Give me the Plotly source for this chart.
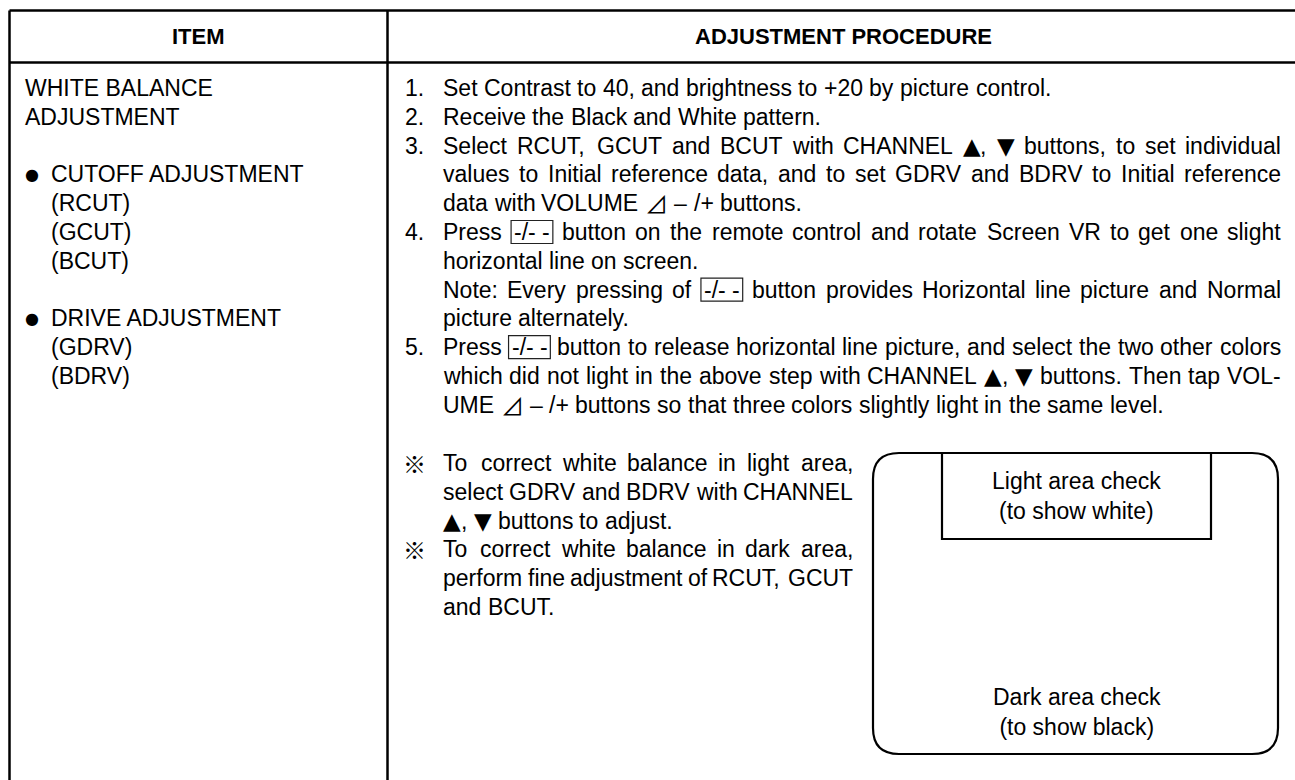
import plotly.graph_objects as go

# ---------------- content ----------------
header_item = "ITEM"
header_proc = "ADJUSTMENT PROCEDURE"

item_bullets = ["", "", "", "●", "", "", "", "", "●", "", ""]
item_lines = ["WHITE BALANCE", "ADJUSTMENT", "", "CUTOFF ADJUSTMENT", "(RCUT)", "(GCUT)",
              "(BCUT)", "", "DRIVE ADJUSTMENT", "(GDRV)", "(BDRV)"]

NB = "\u00a0"
BOXED = "[-/-" + NB + "-]"
step_labels = ["1.", "2.", "3.", "", "", "4.", "", "", "", "5.", "", ""]
step_lines = [
    "Set Contrast to 40, and brightness to +20 by picture control.",
    "Receive the Black and White pattern.",
    "Select RCUT, GCUT and BCUT with CHANNEL ▲, ▼ buttons, to set individual",
    "values to Initial reference data, and to set GDRV and BDRV to Initial reference",
    "data with VOLUME ⊿ – /+ buttons.",
    "Press " + BOXED + " button on the remote control and rotate Screen VR to get one slight",
    "horizontal line on screen.",
    "Note: Every pressing of " + BOXED + " button provides Horizontal line picture and Normal",
    "picture alternately.",
    "Press " + BOXED + " button to release horizontal line picture, and select the two other colors",
    "which did not light in the above step with CHANNEL ▲, ▼ buttons. Then tap VOL-",
    "UME ⊿ – /+ buttons so that three colors slightly light in the same level.",
]
step_justify = [0, 0, 1, 1, 0, 1, 0, 1, 0, 1, 1, 0]

note_labels = ["※", "", "", "※", "", ""]
note_lines = [
    "To correct white balance in light area,",
    "select GDRV and BDRV with CHANNEL",
    "▲, ▼ buttons to adjust.",
    "To correct white balance in dark area,",
    "perform fine adjustment of RCUT, GCUT",
    "and BCUT.",
]
note_justify = [1, 1, 0, 1, 1, 0]

diagram_top_label = "Light area check<br>(to show white)"
diagram_bottom_label = "Dark area check<br>(to show black)"

# ---------------- layout constants ----------------
W, H = 1295, 780
FS = 23
FONT = "Liberation Sans, Arial, Helvetica, sans-serif"
SYM_FONT = "DejaVu Sans, " + FONT
CJK_FONT = "Noto Sans CJK JP, " + FONT
LINE_H = 28.8
FIRST_Y = 88
TABLE_L, TABLE_T, HEAD_B, DIV_X, TABLE_R = 9.5, 10.5, 62.5, 387.5, 1300
NUM_X, TXT_X, RIGHT_X = 405, 443, 1281
NOTE_Y0, NOTE_RIGHT = 463, 853
BOXPAD = 3

AW = {' ': 278, NB: 278, '!': 278, '"': 355, '#': 556, '$': 556, '%': 889, '&': 667, "'": 191, '(': 333,
      ')': 333, '*': 389, '+': 584, ',': 278, '-': 333, '.': 278, '/': 278, ':': 278, ';': 278, '<': 584,
      '=': 584, '>': 584, '?': 556, '@': 1015, '[': 278, ']': 278,
      'A': 667, 'B': 667, 'C': 722, 'D': 722, 'E': 667, 'F': 611, 'G': 778, 'H': 722, 'I': 278, 'J': 500,
      'K': 667, 'L': 556, 'M': 833, 'N': 722, 'O': 778, 'P': 667, 'Q': 778, 'R': 722, 'S': 667, 'T': 611,
      'U': 722, 'V': 667, 'W': 944, 'X': 667, 'Y': 667, 'Z': 611,
      'a': 556, 'b': 556, 'c': 500, 'd': 556, 'e': 556, 'f': 278, 'g': 556, 'h': 556, 'i': 222, 'j': 222,
      'k': 500, 'l': 222, 'm': 833, 'n': 556, 'o': 556, 'p': 556, 'q': 556, 'r': 333, 's': 500, 't': 278,
      'u': 556, 'v': 500, 'w': 722, 'x': 500, 'y': 500, 'z': 500,
      '▲': 770, '▼': 770, '⊿': 1000, '–': 556, '※': 1000, '●': 604}
for d in "0123456789":
    AW[d] = 556


def text_w(s, size=FS):
    return sum(AW.get(c, 556) for c in s) / 1000.0 * size


def is_boxed(tok):
    return tok.startswith("[") and tok.endswith("]")


def token_w(tok):
    if is_boxed(tok):
        return text_w(tok[1:-1]) + 2 * BOXPAD
    return text_w(tok)


annotations = []
shapes = []


def add_text(x, y, text, size=FS, anchor="left", family=FONT, bold=False):
    if bold:
        text = "<b>" + text + "</b>"
    annotations.append(dict(x=x, y=y, xref="x", yref="y", text=text, showarrow=False,
                            xanchor=anchor, yanchor="middle", borderpad=0, borderwidth=0,
                            font=dict(family=family, size=size, color="#000")))


def place_token(x, y, tok):
    if tok in ("▲", "▼", "▲,", "▼,"):
        add_text(x, y, tok[0], family=SYM_FONT)
        if len(tok) > 1:
            add_text(x + text_w(tok[0]), y, tok[1:])
    elif "⊿" in tok:
        add_text(x, y, tok, family=CJK_FONT)
    else:
        add_text(x, y, tok)


def place_line(line, y, left, right, justify):
    toks = line.split(" ")
    ws = [token_w(t) for t in toks]
    space = text_w(" ")
    if justify and len(toks) > 1:
        gap = (right - left - sum(ws)) / (len(toks) - 1)
    else:
        gap = space
    x = left
    for t, w in zip(toks, ws):
        if is_boxed(t):
            add_text(x + BOXPAD, y, t[1:-1])
            shapes.append(dict(type="rect", xref="x", yref="y", x0=x, x1=x + w,
                               y0=y - 11.5, y1=y + 11.5, line=dict(color="#222", width=1.2)))
        else:
            place_token(x, y, t)
        x += w + gap


# ---------------- table frame ----------------
line_style = dict(color="#000", width=2.5)
shapes.append(dict(type="line", xref="x", yref="y", x0=TABLE_L, x1=TABLE_R, y0=TABLE_T, y1=TABLE_T, line=line_style))
shapes.append(dict(type="line", xref="x", yref="y", x0=TABLE_L, x1=TABLE_R, y0=HEAD_B, y1=HEAD_B, line=line_style))
shapes.append(dict(type="line", xref="x", yref="y", x0=TABLE_L, x1=TABLE_L, y0=TABLE_T, y1=H + 5, line=line_style))
shapes.append(dict(type="line", xref="x", yref="y", x0=DIV_X, x1=DIV_X, y0=TABLE_T, y1=H + 5, line=line_style))

# header
add_text((TABLE_L + DIV_X) / 2, (TABLE_T + HEAD_B) / 2, header_item, size=22, anchor="center", bold=True)
add_text((DIV_X + TABLE_R) / 2, (TABLE_T + HEAD_B) / 2, header_proc, size=22, anchor="center", bold=True)

# item column
for i, (b, t) in enumerate(zip(item_bullets, item_lines)):
    y = FIRST_Y + i * LINE_H
    if b:
        add_text(32, y, b, size=16, anchor="center", family=SYM_FONT)
        add_text(51, y, t)
    elif t:
        tx = 25 if i < 2 else 51
        add_text(tx, y, t)

# procedure column
for i, (lab, t, j) in enumerate(zip(step_labels, step_lines, step_justify)):
    y = FIRST_Y + i * LINE_H
    if lab:
        add_text(NUM_X, y, lab)
    place_line(t, y, TXT_X, RIGHT_X, j)

for i, (lab, t, j) in enumerate(zip(note_labels, note_lines, note_justify)):
    y = NOTE_Y0 + i * LINE_H
    if lab:
        add_text(NUM_X - 2, y, lab, size=23, family=CJK_FONT)
    place_line(t, y, TXT_X, NOTE_RIGHT, j)

# diagram
bx0, bx1, by0, by1, r = 873, 1278, 453, 754, 26
path = (f"M {bx0 + r},{by0} L {bx1 - r},{by0} Q {bx1},{by0} {bx1},{by0 + r} "
        f"L {bx1},{by1 - r} Q {bx1},{by1} {bx1 - r},{by1} L {bx0 + r},{by1} "
        f"Q {bx0},{by1} {bx0},{by1 - r} L {bx0},{by0 + r} Q {bx0},{by0} {bx0 + r},{by0} Z")
shapes.append(dict(type="path", xref="x", yref="y", path=path, line=dict(color="#000", width=2.2)))
ix0, ix1, iy1 = 942, 1211, 539
shapes.append(dict(type="rect", xref="x", yref="y", x0=ix0, x1=ix1, y0=by0, y1=iy1,
                   line=dict(color="#000", width=2.2)))
add_text((ix0 + ix1) / 2, (by0 + iy1) / 2, diagram_top_label, anchor="center")
add_text((ix0 + ix1) / 2, 712, diagram_bottom_label, anchor="center")

fig = go.Figure()
fig.update_layout(
    width=W, height=H, margin=dict(l=0, r=0, t=0, b=0),
    paper_bgcolor="white", plot_bgcolor="white", showlegend=False,
    xaxis=dict(range=[0, W], visible=False, showgrid=False, zeroline=False, fixedrange=True),
    yaxis=dict(range=[H, 0], visible=False, showgrid=False, zeroline=False, fixedrange=True),
    annotations=annotations, shapes=shapes,
)
fig.write_html("out.html", config={"displayModeBar": False},
               post_script="document.body.style.margin='0';document.body.style.overflow='hidden';")
